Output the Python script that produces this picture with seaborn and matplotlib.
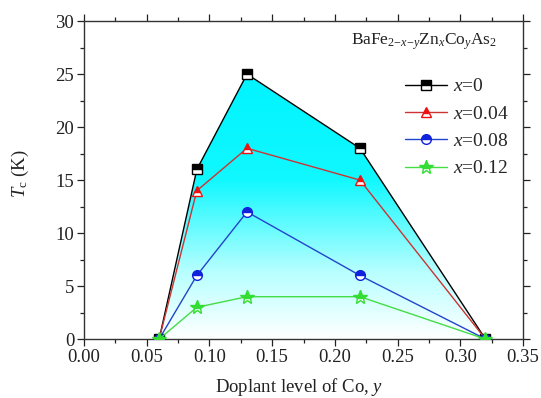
import numpy as np
import pandas as pd
import matplotlib
matplotlib.use("Agg")
import matplotlib.pyplot as plt
import seaborn as sns
from matplotlib.colors import LinearSegmentedColormap
from matplotlib.ticker import MultipleLocator

sns.set_theme(style="ticks")
plt.rcParams['font.family'] = ['Liberation Serif', 'DejaVu Serif']
plt.rcParams['mathtext.fontset'] = 'custom'
plt.rcParams['mathtext.rm'] = 'Liberation Serif'
plt.rcParams['mathtext.it'] = 'Liberation Serif:italic'

co_level = [0.06, 0.09, 0.13, 0.22, 0.32]
tc_x0 = [0, 16, 25, 18, 0]
tc_x004 = [0, 14, 18, 15, 0]
tc_x008 = [0, 6, 12, 6, 0]
tc_x012 = [0, 3, 4, 4, 0]
series_labels = ["$x$=0", "$x$=0.04", "$x$=0.08", "$x$=0.12"]
series_values = [tc_x0, tc_x004, tc_x008, tc_x012]
colors = ["black", "#ee1111", "#1122dd", "#33dd33"]
markers = ["s", "^", "o", "*"]
line_colors = ["black", "#cc3333", "#2244cc", "#44dd44"]

fig = plt.figure(figsize=(5.41, 3.98), dpi=100)
ax = fig.add_axes([0.155, 0.148, 0.812, 0.799])

# gradient fill under x=0 curve
poly = ax.fill_between(co_level, tc_x0, 0, facecolor="none", edgecolor="none")
cmap = LinearSegmentedColormap.from_list(
    "cw", [(0.0, "#ffffff"), (0.25, "#b8ffff"), (0.6, "#10f8ff"), (1.0, "#00f4ff")])
grad = np.linspace(0, 1, 256).reshape(-1, 1)
im = ax.imshow(grad, extent=[min(co_level), max(co_level), 0, max(tc_x0)],
               origin="lower", cmap=cmap, aspect="auto", zorder=1)
im.set_clip_path(poly.get_paths()[0], transform=ax.transData)

for lab, vals, c, lc, m in zip(series_labels, series_values, colors, line_colors, markers):
    df = pd.DataFrame({"y": co_level, "tc": vals})
    sns.lineplot(data=df, x="y", y="tc", ax=ax, color=lc, marker=m,
                 markersize=10 if m == "*" else 7, fillstyle="top",
                 markerfacecolor=c,
                 markerfacecoloralt="white", markeredgecolor=c,
                 markeredgewidth=1.0, linewidth=1.0, label=lab, zorder=3)

ax.set_xlim(0, 0.35)
ax.set_ylim(0, 30)
ax.xaxis.set_major_locator(MultipleLocator(0.05))
ax.xaxis.set_minor_locator(MultipleLocator(0.025))
ax.yaxis.set_major_locator(MultipleLocator(5))
ax.yaxis.set_minor_locator(MultipleLocator(2.5))
ax.set_xticks(np.arange(0, 0.351, 0.05))
ax.set_xticklabels([f"{v:.2f}" for v in np.arange(0, 0.351, 0.05)])
ax.tick_params(which="both", top=True, right=True, labeltop=False, labelright=False,
               labelsize=13.5, colors="#222222")
ax.tick_params(which="major", direction="out", length=5, width=0.9, pad=2)
ax.tick_params(which="minor", direction="out", length=3, width=0.9)
for tl in ax.xaxis.get_ticklines(minor=False)[1::2] + ax.xaxis.get_ticklines(minor=True)[1::2]:
    tl.set_marker(2)  # top ticks pointing inward
for tl in ax.yaxis.get_ticklines(minor=False)[1::2] + ax.yaxis.get_ticklines(minor=True)[1::2]:
    tl.set_marker(1)  # right ticks pointing inward
for sp in ax.spines.values():
    sp.set_color("#333333")
    sp.set_linewidth(1.0)

ax.set_xlabel("Doplant level of Co, $y$", fontsize=13.5, color="#222222")
ax.xaxis.set_label_coords(0.49, -0.115)
ax.set_ylabel("$T_{\\rm c}$ (K)", fontsize=13.5, color="#222222")
ax.yaxis.set_label_coords(-0.12, 0.52)

ax.text(0.941, 0.934, "BaFe$_{2\\mathrm{-}x\\mathrm{-}y}$Zn$_x$Co$_y$As$_2$",
        transform=ax.transAxes, ha="right", va="center", fontsize=12.5, color="#222222")

leg = ax.legend(loc="upper right", bbox_to_anchor=(0.968, 0.822), frameon=False,
                fontsize=14, handlelength=2.2, labelspacing=0.5,
                borderaxespad=0.0, borderpad=0.0, handletextpad=0.3)

fig.savefig("out.png", dpi=100)
